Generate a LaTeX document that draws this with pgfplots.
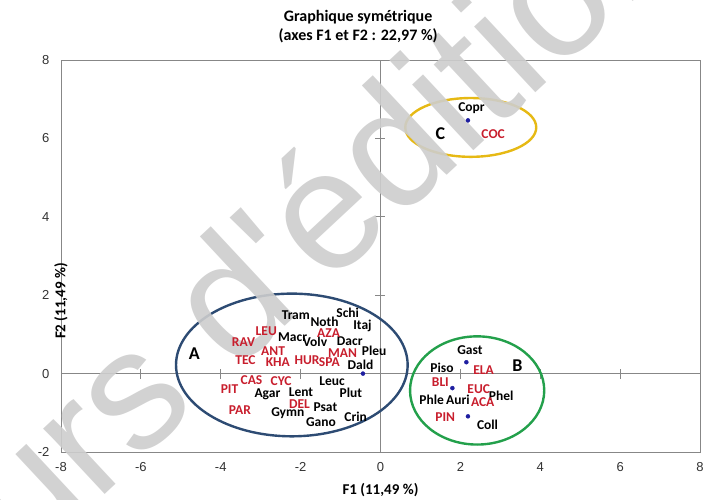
\documentclass[border=0pt]{standalone}
\usepackage{pgfplots}
\pgfplotsset{compat=1.18}
\usepackage{pgfplotstable}
\usepackage{fontspec}
\setmainfont{Carlito}
\newfontfamily\tickfont{Liberation Sans}
\newfontfamily\wmfont{Liberation Sans}

\definecolor{lblred}{RGB}{200,30,45}
\definecolor{ellA}{RGB}{45,75,115}
\definecolor{ellB}{RGB}{35,160,75}
\definecolor{ellC}{RGB}{230,185,20}
\definecolor{ptblue}{RGB}{30,30,160}
\definecolor{axgray}{RGB}{135,135,135}
\definecolor{wmgray}{RGB}{205,205,205}

\pgfplotstableread{
x y label
-2.12 1.48 Tram
-1.40 1.33 Noth
-0.82 1.56 Schi
-0.45 1.22 Itaj
-2.20 0.93 Macr
-1.64 0.80 Volv
-0.77 0.82 Dacr
-0.16 0.57 Pleu
-0.50 0.22 Dald
-1.21 -0.19 Leuc
-2.83 -0.52 Agar
-1.99 -0.48 Lent
-0.74 -0.49 Plut
-1.38 -0.85 Psat
-2.32 -1.00 Gymn
-0.62 -1.11 Crin
-1.49 -1.23 Gano
2.24 0.59 Gast
1.54 0.16 Piso
3.02 -0.56 Phel
1.28 -0.66 Phle
1.94 -0.66 Auri
2.68 -1.31 Coll
2.28 6.77 Copr
}\blacktab

\pgfplotstableread{
x y label
-2.86 1.08 LEU
-1.30 1.03 AZA
-3.43 0.80 RAV
-2.69 0.58 ANT
-0.95 0.52 MAN
-3.38 0.35 TEC
-2.57 0.29 KHA
-1.84 0.33 HUR
-1.28 0.29 SPA
-3.23 -0.16 CAS
-2.49 -0.19 CYC
-3.78 -0.39 PIT
-2.03 -0.77 DEL
-3.52 -0.92 PAR
2.58 0.09 ELA
1.50 -0.23 BLI
2.46 -0.40 EUC
2.56 -0.73 ACA
1.62 -1.11 PIN
2.82 6.11 COC
}\redtab

\pgfplotstableread{
x y label
-4.66 0.50 A
3.43 0.19 B
1.50 6.11 C
}\grouptab

\pgfplotstableread{
x y
-0.44 0.00
2.19 6.46
2.15 0.29
1.80 -0.37
2.19 -1.09
}\dottab

\begin{document}
\begin{tikzpicture}
\useasboundingbox (-61pt,-48pt) rectangle (649pt,452pt);
\begin{axis}[
  at={(0pt,0pt)}, anchor=south west,
  width=639pt, height=392pt, scale only axis,
  xmin=-8, xmax=8, ymin=-2, ymax=8,
  xtick={-8,-6,-4,-2,0,2,4,6,8},
  xticklabels={-8,-6,-4,-2,0,2,4,6,8},
  ytick={-2,0,2,4,6,8},
  yticklabels={-2,0,2,4,6,8},
  major tick length=0pt,
  axis line style={axgray, line width=0.8pt},
  tick label style={font=\tickfont\fontsize{13}{13}\selectfont, text=black!80},
  xticklabel style={yshift=-7pt},
  yticklabel style={xshift=-8pt},
  title={Graphique symétrique\\(axes F1 et F2 : 22,97 \%)},
  title style={align=center, font=\bfseries\fontsize{16}{19}\selectfont,
    at={(rel axis cs:0.465,1)}, anchor=south, yshift=8pt},
  xlabel={F1 (11,49 \%)},
  xlabel style={font=\bfseries\fontsize{15}{15}\selectfont,
    at={(rel axis cs:0.5,0)}, anchor=center, yshift=-38pt},
  ylabel={F2 (11,49 \%)},
  ylabel style={font=\bfseries\fontsize{15}{15}\selectfont,
    at={(rel axis cs:0,0.5)}, anchor=center, xshift=-45pt},
  clip=false,
]
\draw[axgray, line width=0.8pt] (axis cs:-8,0) -- (axis cs:8,0);
\draw[axgray, line width=0.8pt] (axis cs:0,-2) -- (axis cs:0,8);
\pgfplotsinvokeforeach{-6,-4,-2,2,4,6}{
  \draw[axgray, line width=0.8pt] ([yshift=-5pt]axis cs:#1,0) -- ([yshift=5pt]axis cs:#1,0);
}
\pgfplotsinvokeforeach{2,4,6}{
  \draw[axgray, line width=0.8pt] ([xshift=-5pt]axis cs:0,#1) -- ([xshift=5pt]axis cs:0,#1);
}

\draw[ellA, line width=2.4pt] (axis cs:-2.22,0.22) ellipse [x radius=2.9, y radius=1.82];
\draw[ellB, line width=2.4pt] (axis cs:2.42,-0.43) ellipse [x radius=1.68, y radius=1.38];
\draw[ellC, line width=2.4pt] (axis cs:2.26,6.28) ellipse [x radius=1.64, y radius=0.75];

\node[rotate=43, anchor=base, text=wmgray, opacity=0.9,
  font=\wmfont\fontsize{170}{170}\selectfont] at (axis cs:-0.50,3.00) {urs d'édition};

\addplot[only marks, mark=*, mark size=2pt, ptblue] table[x=x, y=y] {\dottab};

\addplot[draw=none, mark=none, nodes near coords, point meta=explicit symbolic,
  nodes near coords style={anchor=center, inner sep=0pt, text=black,
    font=\bfseries\fontsize{13.5}{13.5}\selectfont}]
  table[x=x, y=y, meta=label] {\blacktab};
\addplot[draw=none, mark=none, nodes near coords, point meta=explicit symbolic,
  nodes near coords style={anchor=center, inner sep=0pt, text=lblred,
    font=\bfseries\fontsize{13.5}{13.5}\selectfont}]
  table[x=x, y=y, meta=label] {\redtab};
\addplot[draw=none, mark=none, nodes near coords, point meta=explicit symbolic,
  nodes near coords style={anchor=center, inner sep=0pt, text=black,
    font=\bfseries\fontsize{18}{18}\selectfont}]
  table[x=x, y=y, meta=label] {\grouptab};
\end{axis}
\end{tikzpicture}
\end{document}
